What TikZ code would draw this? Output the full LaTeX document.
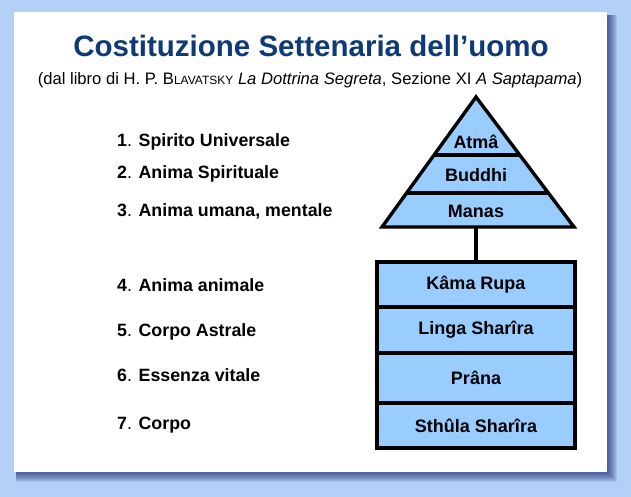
\documentclass[tikz,border=0pt]{standalone}
\usepackage{fontspec}
\setmainfont{Liberation Sans}
\usetikzlibrary{positioning, calc}
\definecolor{skyback}{RGB}{180,208,246}
\definecolor{panelshadow}{RGB}{28,48,118}
\definecolor{layerblue}{RGB}{153,204,255}
\definecolor{titlenavy}{RGB}{14,58,120}

\begin{document}
\begin{tikzpicture}[x=1pt, y=-1pt,
  layer/.style={draw=black, line width=3.4pt, fill=layerblue, minimum width=198pt,
                inner sep=0pt, font=\fontsize{18}{21}\selectfont\bfseries},
  pname/.style={font=\fontsize{18}{21}\selectfont\bfseries},
  principle/.style={anchor=west, font=\fontsize{17.8}{21}\selectfont\bfseries,
                    text height=13pt, text depth=3.5pt, inner sep=0pt},
  heavy/.style={line width=3.4pt, line join=miter},
]
  \def\cx{476} % axis of the pyramid

  % --- page and panel ---
  \fill[skyback] (0,0) rectangle (631,497);
  \foreach \k in {1,...,10} {
    \fill[panelshadow, opacity=0.1] (16,15) rectangle (607+\k, 472+\k);
  }
  \fill[white] (14,12) rectangle (607,472);

  % title
  \node[font=\fontsize{29.5}{34}\selectfont\bfseries, text=titlenavy] (title) at (311,46)
    {Costituzione Settenaria dell’uomo};
  \node[font=\fontsize{16.6}{20}\selectfont] (subtitle) at (310,80)
    {(dal libro di H. P. B{\fontsize{12}{14}\selectfont LAVATSKY} \textit{La Dottrina Segreta},
     Sezione XI \textit{A Saptapama})};

  % --- pyramid ---
  \coordinate (apex) at (\cx,97);
  \coordinate (baseL) at (382,227);
  \coordinate (baseR) at (574,227);
  \filldraw[fill=layerblue, heavy] (apex) -- (baseL) -- (baseR) -- cycle;
  \draw[heavy] ($(apex)!0.446!(baseL)$) -- ($(apex)!0.446!(baseR)$);
  \draw[heavy] ($(apex)!0.738!(baseL)$) -- ($(apex)!0.738!(baseR)$);
  \node[pname] (atma) at (\cx,142) {Atmâ};
  \node[pname] (buddhi) at (\cx,175) {Buddhi};
  \node[pname] (manas) at (\cx,211) {Manas};
  \coordinate (pyrbase) at (\cx,227);

  % --- lower quaternary ---
  \foreach \name/\y/\h/\txt in {
    kama/284.5/45/{Kâma Rupa},
    linga/330/46/{Linga Sharîra},
    prana/378/50/{Prâna},
    sthula/425.5/45/{Sthûla Sharîra}
  } {
    \node[layer, minimum height=\h pt] (\name) at (\cx,\y) {\txt};
  }
  \draw[heavy] (pyrbase) -- (kama.north);

  % principles
  \foreach \n/\y/\txt in {
    1/142/{Spirito Universale},
    2/174/{Anima Spirituale},
    3/212/{Anima umana, mentale},
    4/287/{Anima animale},
    5/332/{Corpo Astrale},
    6/377/{Essenza vitale},
    7/425/{Corpo}
  } {
    \node[principle] (p\n) at (117,\y) {\n{\mdseries.} \txt};
  }

\end{tikzpicture}
\end{document}
